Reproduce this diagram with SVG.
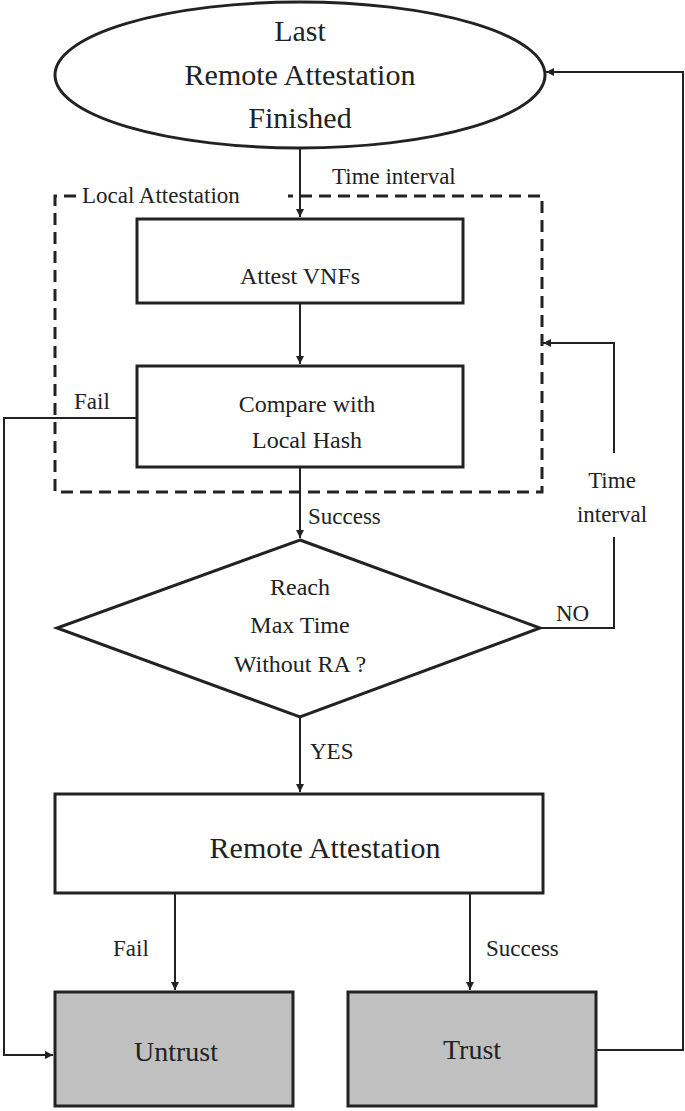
<svg xmlns="http://www.w3.org/2000/svg" width="685" height="1111" viewBox="0 0 685 1111">
<defs>
<marker id="ah" viewBox="0 0 10 10" refX="10" refY="5" markerWidth="8" markerHeight="8" markerUnits="userSpaceOnUse" orient="auto"><path d="M0,0 L10,5 L0,10 z" fill="#222"/></marker>
<style>
.n{fill:#fff;stroke:#222;stroke-width:3}
.g{fill:#c0c0c0;stroke:#222;stroke-width:3}
.c{fill:none;stroke:#222;stroke-width:2}
text{font-family:"Liberation Serif",serif;fill:#222}
.m{text-anchor:middle}
</style>
</defs>
<rect width="685" height="1111" fill="#fff"/>
<g id="connectors">
<path class="c" d="M300,148 V217" marker-end="url(#ah)"/>
<path class="c" d="M300,303 V364" marker-end="url(#ah)"/>
<path class="c" d="M300,467 V538" marker-end="url(#ah)"/>
<path class="c" d="M540,628 H614 V537 M614,453 V343 H543" marker-end="url(#ah)"/>
<path class="c" d="M300,717 V792" marker-end="url(#ah)"/>
<path class="c" d="M175,893 V990" marker-end="url(#ah)"/>
<path class="c" d="M470,893 V990" marker-end="url(#ah)"/>
<path class="c" d="M137,418 H4 V1055 H53" marker-end="url(#ah)"/>
<path class="c" d="M596,1050 H683 V72 H546" marker-end="url(#ah)"/>
</g>
<g id="local">
<path d="M76,196 H55 V492 H542 V196 H288" fill="none" stroke="#222" stroke-width="3" stroke-dasharray="12,7"/>
<text x="82" y="203" font-size="23">Local Attestation</text>
</g>
<text x="332" y="184" font-size="23">Time interval</text>
<g id="start"><ellipse class="n" cx="300" cy="75" rx="245" ry="73"/>
<text class="m" x="300" y="41" font-size="30">Last</text>
<text class="m" x="300" y="85" font-size="30">Remote Attestation</text>
<text class="m" x="300" y="128" font-size="30">Finished</text></g>
<g id="attest"><rect class="n" x="137" y="219" width="326" height="84"/>
<text class="m" x="300" y="284" font-size="24">Attest  VNFs</text></g>
<g id="compare"><rect class="n" x="137" y="366" width="326" height="101"/>
<text class="m" x="307" y="412" font-size="24">Compare with</text>
<text class="m" x="307" y="448" font-size="24">Local Hash</text></g>
<text x="74" y="409" font-size="23">Fail</text>
<text x="308" y="524" font-size="23">Success</text>
<g id="decision"><polygon class="n" points="300,540 540,628 300,717 57,628"/>
<text class="m" x="300" y="595" font-size="24">Reach</text>
<text class="m" x="300" y="633" font-size="24">Max Time</text>
<text class="m" x="300" y="672" font-size="24">Without RA ?</text></g>
<text x="556" y="621" font-size="23">NO</text>
<text class="m" x="612" y="488" font-size="23">Time</text>
<text class="m" x="612" y="522" font-size="23">interval</text>
<text x="310" y="759" font-size="23">YES</text>
<g id="remote"><rect class="n" x="55" y="794" width="488" height="99"/>
<text class="m" x="325" y="858" font-size="30">Remote Attestation</text></g>
<text x="113" y="956" font-size="23">Fail</text>
<text x="486" y="956" font-size="23">Success</text>
<g id="untrust"><rect class="g" x="55" y="992" width="238" height="114"/>
<text class="m" x="176" y="1061" font-size="28">Untrust</text></g>
<g id="trust"><rect class="g" x="348" y="992" width="248" height="114"/>
<text class="m" x="472" y="1059" font-size="28">Trust</text></g>
</svg>
